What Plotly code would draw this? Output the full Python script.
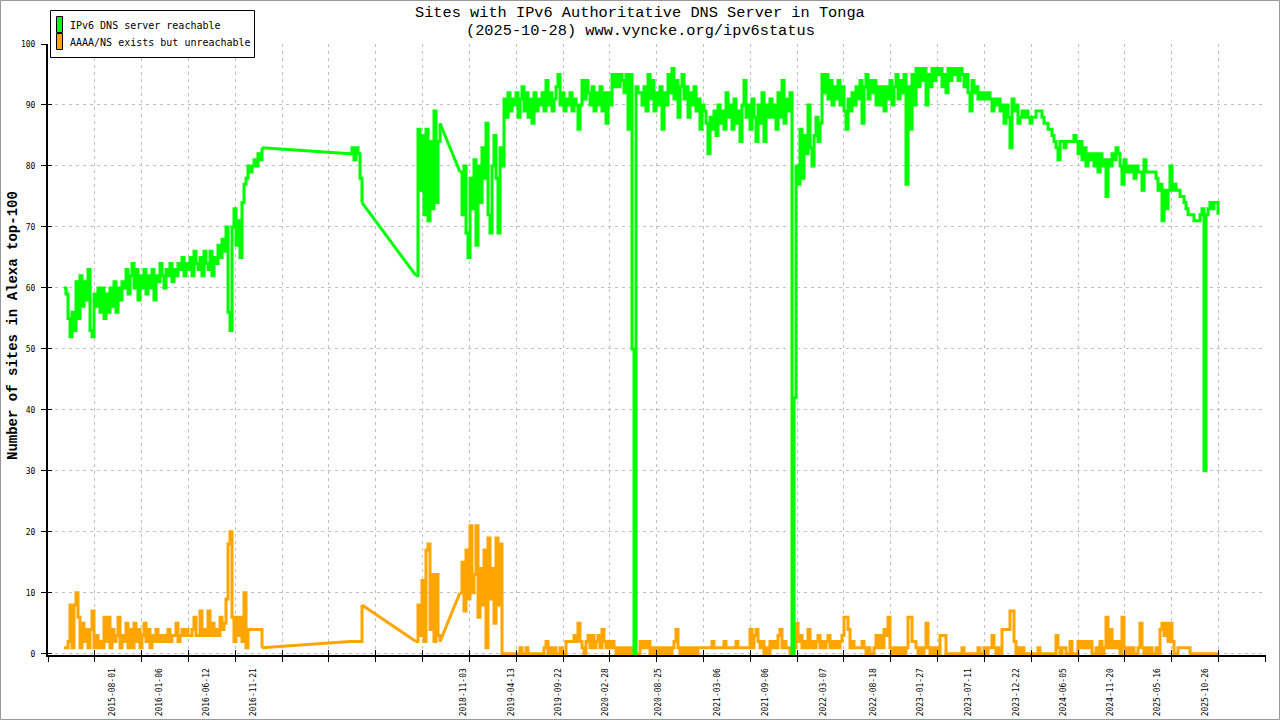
import plotly.graph_objects as go

# ---------------- text ----------------
title_line1 = "Sites with IPv6 Authoritative DNS Server in Tonga"
title_line2 = "(2025-10-28) www.vyncke.org/ipv6status"
y_axis_title = "Number of sites in Alexa top-100"
series_names = ["IPv6 DNS server reachable", "AAAA/NS exists but unreachable"]
series_colors = ["#00ff00", "#ffa500"]

# ---------------- x axis labels (sample index -> date label) ----------------
x_labels = ["2015-08-01", "2016-01-06", "2016-06-12", "2016-11-21", "2018-11-03",
            "2019-04-13", "2019-09-22", "2020-02-28", "2020-08-25", "2021-03-06",
            "2021-09-06", "2022-03-07", "2022-08-18", "2023-01-27", "2023-07-11",
            "2023-12-22", "2024-06-05", "2024-11-20", "2025-05-16", "2025-10-26"]
x_label_samples = [24, 47.5, 71, 94.5, 199.5, 223.5, 247, 270.5, 297, 326.5,
                   350.5, 379.5, 404.5, 428, 452, 476, 499.5, 523, 546.5, 570.5]

N = None
# ---------------- series values (one per sample) ----------------
green_reachable = [
    60, 59, 55, 52, 56, 53, 61, 55, 62, 57,
    61, 58, 63, 53, 52, 59, 57, 60, 56, 60,
    55, 59, 56, 60, 57, 61, 56, 60, 58, 61,
    60, 63, 59, 62, 64, 60, 63, 58, 62, 60,
    63, 59, 62, 60, 63, 58, 62, 61, 64, 62,
    60, 63, 62, 64, 61, 63, 62, 64, 63, 65,
    62, 64, 63, 65, 62, 66, 64, 63, 65, 62,
    66, 64, 63, 66, 62, 65, 64, 67, 65, 68,
    66, 70, 56, 53, 70, 73, 67, 71, 65, 74,
    77, 78, 80, 79, 80, 81, 80, 82, 81, 83,
    N, N, N, N, N, N, N, N, N, N,
    N, N, N, N, N, N, N, N, N, N,
    N, N, N, N, N, N, N, N, N, N,
    N, N, N, N, N, N, N, N, N, N,
    N, N, N, 82, 83, 81, 83, 82, 78, 74,
    N, N, N, N, N, N, N, N, N, N,
    N, N, N, N, N, N, N, N, N, N,
    N, N, N, N, N, N, 62, 86, 76, 85,
    72, 86, 71, 84, 73, 89, 74, 84, 87, N,
    N, N, N, N, N, N, N, N, 79, 72,
    80, 69, 65, 78, 73, 81, 67, 80, 74, 83,
    78, 87, 72, 69, 80, 85, 78, 69, 83, 80,
    91, 88, 92, 89, 91, 90, 92, 88, 91, 93,
    89, 92, 88, 91, 87, 92, 89, 91, 90, 92,
    89, 94, 90, 92, 89, 91, 93, 95, 90, 92,
    89, 91, 90, 92, 89, 91, 90, 86, 90, 94,
    91, 94, 92, 90, 93, 89, 92, 90, 93, 89,
    92, 87, 92, 90, 95, 93, 95, 93, 95, 94,
    92, 95, 86, 95, 50, 0, 93, 92, 92, 90,
    93, 89, 95, 91, 94, 89, 92, 90, 93, 86,
    92, 90, 95, 92, 96, 91, 94, 88, 93, 95,
    91, 93, 88, 92, 90, 93, 89, 91, 86, 90,
    89, 87, 82, 88, 86, 89, 85, 90, 87, 89,
    86, 92, 88, 90, 86, 91, 87, 89, 84, 90,
    94, 88, 90, 86, 91, 88, 84, 90, 87, 92,
    84, 90, 88, 91, 88, 90, 86, 92, 88, 94,
    87, 91, 89, 92, 0, 42, 80, 77, 86, 78,
    85, 82, 90, 83, 80, 85, 88, 84, 87, 95,
    92, 95, 91, 94, 90, 93, 91, 94, 90, 93,
    89, 86, 91, 89, 92, 90, 93, 91, 94, 87,
    93, 95, 91, 94, 92, 94, 90, 93, 90, 93,
    89, 93, 91, 94, 90, 93, 95, 91, 94, 92,
    95, 77, 93, 86, 95, 90, 96, 93, 96, 94,
    96, 90, 95, 93, 96, 94, 96, 95, 96, 93,
    95, 92, 96, 94, 96, 95, 96, 94, 96, 95,
    93, 95, 92, 89, 94, 92, 93, 91, 92, 91,
    92, 91, 92, 91, 89, 91, 90, 91, 89, 90,
    87, 90, 88, 83, 91, 89, 90, 87, 88, 89,
    88, 89, 88, 87, 88, 88, 89, 89, 89, 88,
    87, 87, 86, 86, 85, 84, 83, 81, 84, 84,
    83, 84, 84, 84, 84, 85, 84, 82, 84, 81,
    83, 80, 82, 81, 82, 80, 82, 79, 82, 80,
    81, 75, 81, 80, 82, 81, 83, 82, 80, 77,
    81, 79, 80, 79, 80, 78, 80, 79, 79, 76,
    81, 79, 79, 79, 79, 79, 78, 76, 77, 71,
    76, 73, 76, 80, 76, 77, 76, 76, 75, 75,
    74, 73, 72, 72, 72, 71, 71, 71, 72, 73,
    30, 72, 73, 74, 73, 74, 74, 72,
]

orange_unreachable = [
    1, 1, 2, 8, 1, 8, 10, 6, 1, 5,
    2, 4, 1, 4, 7, 1, 3, 1, 2, 1,
    6, 2, 6, 1, 4, 2, 3, 6, 1, 3,
    2, 5, 1, 4, 1, 5, 2, 4, 1, 3,
    5, 2, 4, 1, 3, 2, 4, 2, 3, 2,
    3, 2, 4, 2, 3, 3, 5, 2, 3, 4,
    3, 4, 3, 3, 4, 6, 3, 3, 7, 3,
    4, 3, 7, 3, 5, 3, 4, 3, 6, 4,
    5, 9, 18, 20, 6, 2, 6, 3, 6, 2,
    10, 1, 4, 4, 4, 4, 4, 4, 4, 1,
    N, N, N, N, N, N, N, N, N, N,
    N, N, N, N, N, N, N, N, N, N,
    N, N, N, N, N, N, N, N, N, N,
    N, N, N, N, N, N, N, N, N, N,
    N, N, N, 2, 2, 2, 2, 2, 2, 8,
    N, N, N, N, N, N, N, N, N, N,
    N, N, N, N, N, N, N, N, N, N,
    N, N, N, N, N, N, 2, 8, 3, 12,
    2, 17, 18, 4, 13, 2, 13, 3, 2, N,
    N, N, N, N, N, N, N, N, 10, 15,
    7, 17, 9, 21, 10, 13, 21, 6, 14, 8,
    17, 1, 19, 9, 14, 5, 19, 8, 18, 0,
    0, 0, 0, 0, 0, 0, 0, 0, 1, 0,
    0, 1, 0, 0, 0, 0, 0, 0, 0, 0,
    1, 2, 0, 1, 0, 1, 0, 0, 1, 0,
    0, 2, 2, 2, 2, 3, 2, 5, 2, 1,
    0, 2, 3, 1, 3, 1, 2, 3, 1, 4,
    2, 1, 2, 1, 2, 1, 0, 1, 0, 1,
    0, 1, 0, 1, 0, 0, 0, 0, 2, 1,
    2, 1, 2, 0, 1, 0, 1, 0, 1, 0,
    1, 0, 1, 0, 1, 2, 4, 1, 0, 1,
    0, 1, 0, 1, 0, 1, 0, 1, 1, 1,
    1, 1, 1, 1, 2, 1, 1, 1, 1, 1,
    2, 1, 1, 1, 1, 1, 2, 1, 1, 1,
    1, 1, 1, 4, 1, 3, 4, 2, 1, 2,
    0, 1, 0, 2, 1, 2, 1, 3, 4, 1,
    2, 1, 1, 0, 0, 1, 5, 2, 3, 1,
    2, 1, 4, 1, 2, 1, 2, 3, 1, 2,
    1, 2, 3, 1, 2, 1, 2, 1, 2, 3,
    6, 6, 4, 1, 2, 1, 1, 1, 1, 2,
    1, 0, 1, 0, 0, 1, 3, 1, 3, 1,
    4, 3, 6, 1, 0, 1, 0, 1, 0, 1,
    0, 1, 6, 6, 2, 2, 1, 0, 1, 0,
    1, 5, 1, 0, 1, 0, 1, 0, 3, 3,
    3, 0, 0, 0, 0, 0, 0, 0, 0, 1,
    0, 0, 0, 0, 0, 0, 0, 1, 0, 0,
    1, 0, 1, 1, 3, 1, 0, 1, 0, 4,
    4, 4, 4, 7, 7, 2, 0, 1, 0, 1,
    0, 0, 0, 0, 0, 0, 0, 1, 0, 0,
    0, 0, 0, 0, 0, 0, 3, 1, 0, 1,
    1, 0, 0, 2, 0, 0, 0, 2, 1, 2,
    1, 2, 1, 2, 0, 0, 1, 0, 2, 0,
    1, 6, 1, 4, 1, 2, 1, 2, 0, 6,
    1, 0, 1, 0, 1, 0, 0, 1, 5, 1,
    0, 1, 0, 1, 0, 0, 1, 0, 4, 5,
    3, 5, 2, 5, 2, 0, 0, 1, 1, 1,
    1, 1, 1, 0, 0, 0, 0, 0, 0, 0,
    0, 0, 0, 0, 0, 0, 0, 0,
]

y_ticks = [0, 10, 20, 30, 40, 50, 60, 70, 80, 90, 100]

# ---------------- layout geometry ----------------
W, H = 1280, 720
ML, MR, MT, MB = 48, 14, 44, 65
PW, PH = W - ML - MR, H - MT - MB
X_RANGE = [-8, 601]
Y_RANGE = [-0.2, 100]
grid_step = 23.41
grid_ticks = [X_RANGE[0] + grid_step * i for i in range(27)]

MONO = "Liberation Mono, DejaVu Sans Mono, monospace"
SMALL = "DejaVu Sans Mono, monospace"
GRID = "#c0c0c0"


def px(xp):
    return (xp - ML) / PW


def py(yp):
    return (H - MB - yp) / PH


def gap_bridges(vals):
    """Straight connectors across runs of missing samples."""
    xs, ys = [], []
    i = 0
    while i < len(vals):
        if vals[i] is None:
            j = i
            while j < len(vals) and vals[j] is None:
                j += 1
            if i > 0 and j < len(vals):
                xs += [i - 1, j, None]
                ys += [vals[i - 1], vals[j], None]
            i = j
        else:
            i += 1
    return xs, ys


samples = list(range(len(green_reachable)))

fig = go.Figure()
for vals, name, color in [(orange_unreachable, series_names[1], series_colors[1]),
                          (green_reachable, series_names[0], series_colors[0])]:
    bx, by = gap_bridges(vals)
    fig.add_trace(go.Scatter(x=bx, y=by, mode="lines", connectgaps=False,
                             line=dict(color=color, width=3, simplify=False),
                             showlegend=False, hoverinfo="skip"))
    fig.add_trace(go.Scatter(x=samples, y=vals, mode="lines", name=name,
                             connectgaps=False,
                             line=dict(color=color, width=3, shape="hv", simplify=False),
                             showlegend=False, hoverinfo="skip"))

# invisible trace so the overlay axes (inner tick halves) are drawn
fig.add_trace(go.Scatter(x=[X_RANGE[0]], y=[Y_RANGE[0]], xaxis="x2", yaxis="y2",
                         mode="markers", marker=dict(opacity=0), showlegend=False,
                         hoverinfo="skip"))

fig.update_layout(
    width=W, height=H,
    margin=dict(l=ML, r=MR, t=MT, b=MB, pad=0, autoexpand=False),
    paper_bgcolor="white", plot_bgcolor="white",
    showlegend=False,
    xaxis=dict(
        range=X_RANGE, showline=True, linecolor="black", linewidth=2,
        zeroline=False, showgrid=False, automargin=False,
        tickmode="array", tickvals=x_label_samples, ticktext=x_labels,
        ticks="", tickangle=-90, ticklabelstandoff=8,
        tickfont=dict(family=SMALL, size=8, color="black"),
        minor=dict(tickmode="array", tickvals=grid_ticks, ticks="outside",
                   ticklen=5, tickwidth=1, tickcolor="black",
                   showgrid=True, gridcolor=GRID, griddash="3px,4px", gridwidth=1),
    ),
    yaxis=dict(
        range=Y_RANGE, tickmode="array", tickvals=y_ticks,
        showline=True, linecolor="black", linewidth=2, automargin=False,
        zeroline=False, ticks="outside", ticklen=5, tickcolor="black",
        ticklabelstandoff=4,
        showgrid=True, gridcolor=GRID, griddash="3px,4px", gridwidth=1,
        tickfont=dict(family=SMALL, size=8, color="black"),
    ),
    xaxis2=dict(
        range=X_RANGE, overlaying="x", anchor="y2", side="bottom",
        tickmode="array", tickvals=grid_ticks, ticks="inside", ticklen=5,
        tickcolor="black", showticklabels=False, showgrid=False,
        showline=False, zeroline=False, automargin=False,
    ),
    yaxis2=dict(
        range=Y_RANGE, overlaying="y", anchor="x2", side="left",
        tickmode="array", tickvals=y_ticks, ticks="inside", ticklen=4,
        tickcolor="black", showticklabels=False, showgrid=False,
        showline=False, zeroline=False, automargin=False,
    ),
)

annotations = [
    dict(text=title_line1, x=px(640), y=py(13), xref="paper", yref="paper",
         showarrow=False, xanchor="center", yanchor="middle",
         font=dict(family=MONO, size=15.3, color="black")),
    dict(text=title_line2, x=px(640), y=py(31), xref="paper", yref="paper",
         showarrow=False, xanchor="center", yanchor="middle",
         font=dict(family=MONO, size=15.3, color="black")),
    dict(text="<b>" + y_axis_title + "</b>", x=px(13), y=py(326), xref="paper", yref="paper",
         showarrow=False, xanchor="center", yanchor="middle", textangle=-90,
         font=dict(family=MONO, size=14, color="black")),
    dict(text=series_names[0], x=px(68), y=py(25), xref="paper", yref="paper",
         showarrow=False, xanchor="left", yanchor="middle",
         font=dict(family=SMALL, size=10, color="black")),
    dict(text=series_names[1], x=px(68), y=py(42), xref="paper", yref="paper",
         showarrow=False, xanchor="left", yanchor="middle",
         font=dict(family=SMALL, size=10, color="black")),
]

shapes = [
    dict(type="rect", xref="paper", yref="paper",
         x0=px(0.5), x1=px(W - 0.5), y0=py(0.5), y1=py(H - 0.5),
         line=dict(color="#999999", width=1), fillcolor="rgba(0,0,0,0)", layer="below"),
    dict(type="rect", xref="paper", yref="paper",
         x0=px(50.5), x1=px(254.5), y0=py(10.5), y1=py(57.5),
         line=dict(color="black", width=1), fillcolor="white", layer="above"),
    dict(type="rect", xref="paper", yref="paper",
         x0=px(56.5), x1=px(62.5), y0=py(16.5), y1=py(32.5),
         line=dict(color="black", width=1), fillcolor=series_colors[0], layer="above"),
    dict(type="rect", xref="paper", yref="paper",
         x0=px(56.5), x1=px(62.5), y0=py(33.5), y1=py(49.5),
         line=dict(color="black", width=1), fillcolor=series_colors[1], layer="above"),
]

fig.update_layout(annotations=annotations, shapes=shapes)
fig.write_html("out.html", config={"displayModeBar": False},
               post_script="document.body.style.margin='0';")
